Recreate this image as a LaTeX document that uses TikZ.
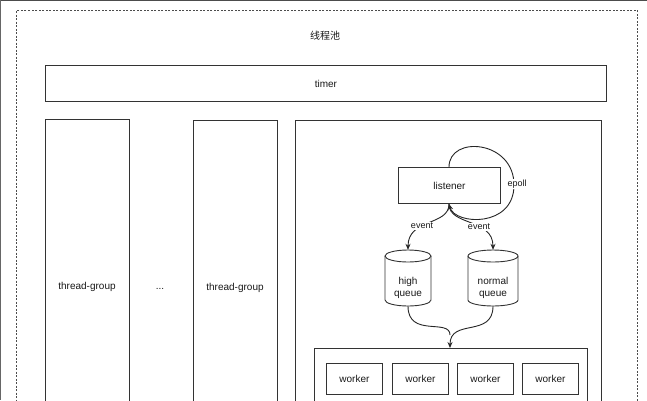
\documentclass[tikz,border=0pt]{standalone}
\usepackage{fontspec}
\setmainfont{Liberation Sans}
\newfontfamily\cjk{Noto Sans CJK SC}
\usetikzlibrary{arrows.meta}
\begin{document}
\begin{tikzpicture}[x=1pt,y=-1pt,
  every node/.style={font=\fontsize{10}{12}\selectfont, text=black!90},
  box/.style={draw=black!80, line width=0.9pt, inner sep=0pt},
  conn/.style={draw=black!85, line width=0.9pt, -{Stealth[length=6pt,width=5pt]}},
  lbl/.style={fill=white, inner sep=1pt, font=\fontsize{9}{11}\selectfont},
  cylline/.style={draw=black!80, line width=0.9pt}]
\useasboundingbox (0,0) rectangle (647,400);
\fill[white] (0,0) rectangle (647,400);
\clip (0,0) rectangle (647,400);
\draw[black!70, line width=2.5pt] (0,0) -- (647,0);
\draw[black!60, line width=2pt] (0,0) -- (0,400);
\node[draw=black!70, dash pattern=on 2pt off 1.5pt, line width=1pt, minimum width=621pt, minimum height=420pt, anchor=north west, inner sep=0pt] (pool) at (16,10) {};
\node (title) at (325,36) {\cjk 线程池};
\node[box, minimum width=561pt, minimum height=36pt, anchor=north west] (timer) at (45,65) {timer};
\node[box, minimum width=84pt, minimum height=300pt, anchor=north west] (tg1) at (45,119) {};
\node (tg1l) at (87,287) {thread-group};
\node (dots) at (160,289) {...};
\node[box, minimum width=84pt, minimum height=300pt, anchor=north west] (tg2) at (193,120) {};
\node (tg2l) at (235,288) {thread-group};
\node[box, minimum width=306pt, minimum height=300pt, anchor=north west] (main) at (295,120) {};
\node[box, minimum width=102pt, minimum height=36pt, anchor=north west] (listener) at (398,167) {listener};
\coordinate (lb) at (449,204);
\coordinate (lt) at (449,167);
% high queue cylinder
\node[inner sep=0pt, minimum width=46pt, minimum height=56pt] (high) at (408,278) {};
\draw[cylline] (408,256) ellipse [x radius=23, y radius=6];
\draw[cylline] (385,256) -- (385,300) arc[start angle=180, end angle=0, x radius=23, y radius=6] -- (431,256);
\node[align=center] (highl) at (408,287.5) {high\\queue};
% normal queue cylinder
\node[inner sep=0pt, minimum width=50pt, minimum height=56pt] (normal) at (493,278) {};
\draw[cylline] (493,256) ellipse [x radius=25, y radius=6];
\draw[cylline] (468,256) -- (468,300) arc[start angle=180, end angle=0, x radius=25, y radius=6] -- (518,256);
\node[align=center] (normall) at (493,287.5) {normal\\queue};
\node[box, minimum width=273pt, minimum height=80pt, anchor=north west] (workers) at (314,348) {};
\node[box, minimum width=56pt, minimum height=31pt, anchor=north west] (w1) at (326,363) {worker};
\node[box, minimum width=56pt, minimum height=31pt, anchor=north west] (w2) at (392,363) {worker};
\node[box, minimum width=56pt, minimum height=31pt, anchor=north west] (w3) at (457,363) {worker};
\node[box, minimum width=56pt, minimum height=31pt, anchor=north west] (w4) at (522,363) {worker};
\coordinate (wt) at (450,348);
% epoll loop
\draw[conn] (lt) .. controls (449,135) and (514,140) .. (514,185) .. controls (514,228) and (455,225) .. (lb);
\node[lbl] (epoll) at (517,184) {epoll};
% event arrows
\draw[conn] (lb) .. controls (449,226) and (408,218) .. (high.north);
\node[lbl] (ev1) at (422,226) {event};
\draw[conn] (lb) .. controls (449,226) and (493,218) .. (normal.north);
\node[lbl] (ev2) at (479,227) {event};
% merge
\draw[black!85, line width=0.9pt] (high.south) .. controls (408,338) and (450,318) .. (450,335);
\draw[conn] (normal.south) .. controls (493,338) and (450,318) .. (wt);
\end{tikzpicture}
\end{document}
